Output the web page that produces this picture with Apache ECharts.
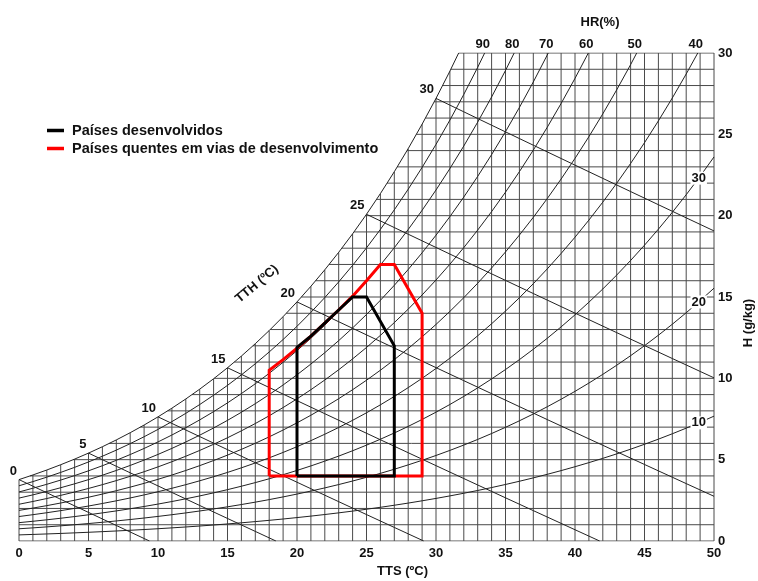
<!DOCTYPE html>
<html>
<head>
<meta charset="utf-8">
<script src="https://cdn.jsdelivr.net/npm/echarts@6/dist/echarts.min.js"></script>
<style>
html, body { margin: 0; padding: 0; background: #fff; }
#chart { width: 758px; height: 581px; }
</style>
</head>
<body>
<div id="chart"></div>
<script>
// Saturation vapour pressure of water (kPa), tabulated at 1 ºC steps from 0 to 50 ºC
const satTemps = [0,1,2,3,4,5,6,7,8,9,10,11,12,13,14,15,16,17,18,19,20,21,22,23,24,25,26,27,28,29,30,31,32,33,34,35,36,37,38,39,40,41,42,43,44,45,46,47,48,49,50];
const satPressure = [0.6112,0.6571,0.7060,0.7581,0.8135,0.8726,0.9354,1.0021,1.0730,1.1482,1.2282,1.3129,1.4028,1.4981,1.5989,1.7057,1.8188,1.9383,2.0647,2.1982,2.3392,2.4881,2.6452,2.8109,2.9856,3.1697,3.3637,3.5679,3.7828,4.0089,4.2467,4.4966,4.7592,5.0351,5.3247,5.6286,5.9475,6.2818,6.6324,6.9997,7.3844,7.7873,8.2090,8.6503,9.1118,9.5944,10.0988,10.6259,11.1764,11.7512,12.3513];
const atmPressure = 101.325;

// Chart ranges
const tMax = 50;
const hMax = 30;

// Wet-bulb (TTH) lines and relative-humidity (HR) curves
const tthLevels = [0, 5, 10, 15, 20, 25, 30];
const hrLevels = [10, 20, 30, 40, 50, 60, 70, 80, 90];
const hrTopLabels = [90, 80, 70, 60, 50, 40];
const hrSideLabels = [30, 20, 10];
const hrSideLabelTemp = 48.9;

// Comfort zones: dry-bulb temperature (ºC) and humidity ratio (g/kg)
const developedName = 'Países desenvolvidos';
const developedT = [20, 27, 27, 25, 24, 23, 22, 21, 20, 20];
const developedH = [4, 4, 12, 15, 15, 14.2, 13.4, 12.6, 11.9, 4];

const hotName = 'Países quentes em vias de desenvolvimento';
const hotT = [18, 29, 29, 27, 26, 25, 24, 23, 22, 21, 20, 19, 18, 18];
const hotH = [4, 4, 14, 17, 17, 16, 15.05, 14.2, 13.4, 12.6, 11.85, 11.15, 10.5, 4];

// ---- psychrometric helpers ----
const humidityFromVapour = p => 622 * p / (atmPressure - p);
const wSat = satPressure.map(humidityFromVapour);

function tempAtSaturation(h) {
  for (let i = 1; i < wSat.length; i++) {
    if (wSat[i] >= h) {
      return satTemps[i - 1] + (h - wSat[i - 1]) / (wSat[i] - wSat[i - 1]);
    }
  }
  return tMax;
}

// Curve of constant relative humidity, clipped at the top of the chart
function hrCurve(rh) {
  const pts = [];
  for (let i = 0; i < satTemps.length; i++) {
    const w = humidityFromVapour(rh / 100 * satPressure[i]);
    if (w > hMax) {
      const [t0, w0] = pts[pts.length - 1];
      pts.push([t0 + (hMax - w0) / (w - w0) * (satTemps[i] - t0), hMax]);
      break;
    }
    pts.push([satTemps[i], w]);
  }
  return pts;
}

// Line of constant enthalpy starting from saturation at ts
function tthLine(ts) {
  const i = satTemps.indexOf(ts);
  const h = 1.006 * ts + wSat[i] / 1000 * (2501 + 1.86 * ts);
  const tEnd = Math.min(tMax, h / 1.006);
  const hum = t => Math.max(0, (h - 1.006 * t) / (2501 + 1.86 * t) * 1000);
  const pts = [];
  for (let t = ts; t < tEnd; t += 1) pts.push([t, hum(t)]);
  pts.push([tEnd, hum(tEnd)]);
  return pts;
}

// Rectangular grid, clipped by the saturation curve
const gridLines = [];
for (let t = 0; t <= tMax; t++) {
  gridLines.push([[t, 0], [t, Math.min(wSat[t], hMax)]]);
}
for (let h = 0; h <= hMax; h++) {
  const start = h <= wSat[0] ? 0 : tempAtSaturation(h);
  gridLines.push([[start, h], [tMax, h]]);
}

// Saturation curve (100 %)
const satCurve = hrCurve(100);
const hrCurves = hrLevels.map(hrCurve);
const tthLines = tthLevels.map(tthLine);

const tthLabelData = tthLevels.map(ts => [ts, wSat[satTemps.indexOf(ts)], ts]);
const hrTopLabelData = hrTopLabels.map(rh => {
  const c = hrCurve(rh);
  return [c[c.length - 1][0], hMax, rh];
});
const hrSideLabelData = hrSideLabels.map(rh => {
  const i = Math.floor(hrSideLabelTemp);
  const f = hrSideLabelTemp - i;
  const p = satPressure[i] + f * (satPressure[i + 1] - satPressure[i]);
  return [hrSideLabelTemp, humidityFromVapour(rh / 100 * p), rh];
});

const FONT = '"Liberation Sans", Arial, sans-serif';
const numStyle = { fontFamily: FONT, fontSize: 13, fontWeight: 'bold', color: '#111' };

const chart = echarts.init(document.getElementById('chart'), null, { renderer: 'canvas' });

const linesSeries = (data, color, width, z) => ({
  type: 'lines',
  coordinateSystem: 'cartesian2d',
  polyline: true,
  silent: true,
  z: z,
  lineStyle: { color: color, width: width, opacity: 1 },
  data: data.map(c => ({ coords: c }))
});

const labelSeries = (data, z, label) => ({
  type: 'scatter', silent: true, z: z, symbolSize: 0,
  itemStyle: { opacity: 1 },
  data: data,
  label: Object.assign({ show: true, position: 'inside', formatter: p => String(p.value[2]) }, numStyle, label)
});

chart.setOption({
  animation: false,
  backgroundColor: '#fff',
  grid: { left: 19, right: 44, top: 53, bottom: 40 },
  xAxis: {
    type: 'value', min: 0, max: tMax, interval: 5,
    axisLine: { show: false }, axisTick: { show: false }, splitLine: { show: false },
    axisLabel: Object.assign({ margin: 6 }, numStyle)
  },
  yAxis: {
    type: 'value', position: 'right', min: 0, max: hMax, interval: 5,
    axisLine: { show: false }, axisTick: { show: false }, splitLine: { show: false },
    axisLabel: Object.assign({ margin: 4 }, numStyle)
  },
  legend: {
    data: [developedName, hotName],
    orient: 'vertical',
    left: 47, top: 123,
    itemWidth: 17, itemHeight: 3.5, itemGap: 3,
    icon: 'rect',
    padding: 0,
    textStyle: { fontFamily: FONT, fontSize: 14.5, fontWeight: 'bold', color: '#111', padding: [0, 0, 0, 3] }
  },
  graphic: [
    { type: 'text', left: 377, top: 565, style: { text: 'TTS (ºC)', font: 'bold 13px ' + FONT, fill: '#111' } },
    { type: 'text', x: 600, y: 22, style: { text: 'HR(%)', font: 'bold 13px ' + FONT, fill: '#111', align: 'center', verticalAlign: 'middle' } },
    { type: 'text', x: 748, y: 323, rotation: Math.PI / 2, style: { text: 'H (g/kg)', font: 'bold 13px ' + FONT, fill: '#111', align: 'center', verticalAlign: 'middle' } },
    { type: 'text', x: 257, y: 284, rotation: 40 * Math.PI / 180, style: { text: 'TTH (ºC)', font: 'bold 13px ' + FONT, fill: '#111', align: 'center', verticalAlign: 'middle' } }
  ],
  series: [
    linesSeries(gridLines, '#4a4a4a', 1, 1),
    linesSeries(tthLines, '#222222', 1, 2),
    linesSeries(hrCurves, '#222222', 1, 2),
    linesSeries([satCurve], '#222222', 1, 2),
    labelSeries(tthLabelData, 3, { align: 'right', verticalAlign: 'bottom', offset: [-2, -2] }),
    labelSeries(hrTopLabelData, 3, { align: 'center', verticalAlign: 'bottom', offset: [-2, -2] }),
    labelSeries(hrSideLabelData, 4, { align: 'center', verticalAlign: 'middle', backgroundColor: '#fff', padding: [0, 1] }),
    {
      name: hotName, type: 'line', z: 5, showSymbol: false, symbol: 'none', silent: true,
      data: hotT.map((t, i) => [t, hotH[i]]),
      lineStyle: { color: '#ff0000', width: 3, join: 'miter' },
      itemStyle: { color: '#ff0000' }
    },
    {
      name: developedName, type: 'line', z: 6, showSymbol: false, symbol: 'none', silent: true,
      data: developedT.map((t, i) => [t, developedH[i]]),
      lineStyle: { color: '#000000', width: 3, join: 'miter' },
      itemStyle: { color: '#000000' }
    }
  ]
});
</script>
</body>
</html>
